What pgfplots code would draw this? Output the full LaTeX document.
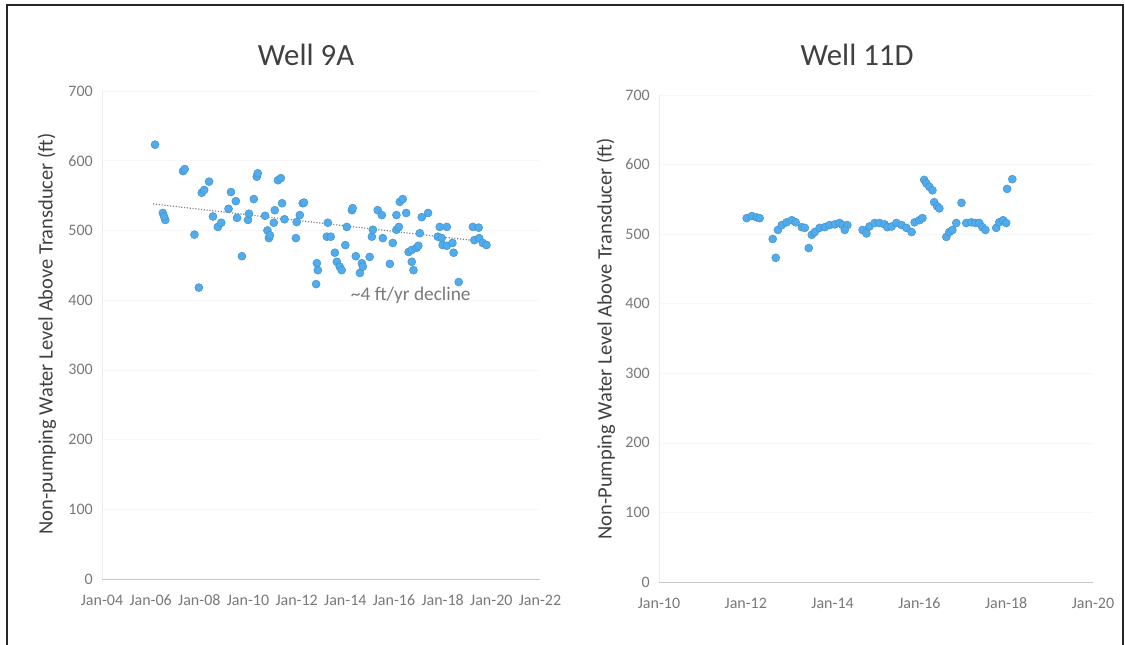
\documentclass[border=0pt]{standalone}
\usepackage{pgfplots}
\pgfplotsset{compat=1.18}
\usepackage{fontspec}
\setmainfont{Carlito}
\definecolor{dot}{RGB}{80,172,236}
\definecolor{txt}{RGB}{64,64,64}
\definecolor{tick}{RGB}{120,120,120}
\begin{document}
\begin{tikzpicture}
\path[use as bounding box] (0,0) rectangle (675pt,387pt);
\draw[line width=0.8pt, black!85] (4.2pt,0) -- (4.2pt,384pt) -- (673.8pt,384pt) -- (673.8pt,0);
\pgfplotsset{
  welax/.style={
    scale only axis,
    anchor=south west,
    axis lines=left,
    axis line style={-},
    x axis line style={draw=gray!45},
    y axis line style={draw=gray!15},
    major tick length=0pt,
    ymin=0, ymax=700,
    ytick={0,100,...,700},
    ymajorgrids,
    grid style={draw=gray!6},
    /pgf/number format/assume math mode=true,
    tick label style={font=\fontsize{9.6}{11}\selectfont, text=tick},
    yticklabel style={xshift=-2pt},
    xticklabel style={yshift=-6pt},
    clip=false,
  },
  dots/.style={only marks, mark=*, mark size=2.4pt,
    mark options={fill=dot, draw=dot!85!black, line width=0.3pt}},
}
\begin{axis}[welax,
  at={(61.2pt,39.6pt)}, width=262.8pt, height=292.8pt,
  xmin=2004, xmax=2022,
  xtick={2004,2006,...,2022},
  xticklabels={Jan-04,Jan-06,Jan-08,Jan-10,Jan-12,Jan-14,Jan-16,Jan-18,Jan-20,Jan-22},
]
\addplot[densely dotted, gray, line width=0.7pt] coordinates {(2006.1,538) (2019.9,483)};
\addplot[dots] coordinates {
(2006.18,623) (2006.5,525) (2006.6,515) (2006.55,520) (2007.33,585) (2007.4,588)
(2007.8,494) (2007.98,418) (2008.1,554) (2008.2,558) (2008.4,570) (2008.56,520)
(2008.76,505) (2008.9,511) (2009.2,531) (2009.3,555) (2009.5,542) (2009.55,518)
(2009.75,463) (2010.0,515) (2010.04,524) (2010.24,545) (2010.36,577) (2010.4,582)
(2010.7,521) (2010.8,500) (2010.86,489) (2010.9,493) (2011.06,511) (2011.1,529)
(2011.23,572) (2011.35,575) (2011.4,539) (2011.5,516) (2011.97,489) (2012.0,512)
(2012.13,522) (2012.25,539) (2012.3,540) (2012.8,423) (2012.83,453) (2012.87,443)
(2013.24,491) (2013.28,511) (2013.4,491) (2013.57,468) (2013.65,455) (2013.77,448)
(2013.85,443) (2014.0,479) (2014.06,505) (2014.27,529) (2014.3,532) (2014.43,463)
(2014.6,439) (2014.68,453) (2014.72,448) (2015.0,462) (2015.09,491) (2015.13,501)
(2015.33,529) (2015.5,522) (2015.54,489) (2015.83,452) (2015.95,482) (2016.1,501)
(2016.1,522) (2016.2,505) (2016.24,541) (2016.36,545) (2016.5,525) (2016.6,469)
(2016.73,472) (2016.73,455) (2016.8,443) (2016.93,475) (2017.0,478) (2017.06,496)
(2017.14,519) (2017.4,525) (2017.8,491) (2017.88,505) (2017.96,489) (2018.0,479)
(2018.17,505) (2018.17,478) (2018.4,482) (2018.45,468) (2018.66,426) (2019.24,505)
(2019.3,486) (2019.48,504) (2019.5,489) (2019.65,482) (2019.8,479)
};
\node[font=\fontsize{11.6}{13}\selectfont, text=gray!95!black] at (axis cs:2016.69,407) {\textasciitilde4 ft/yr decline};
\end{axis}
\begin{axis}[welax,
  at={(395.4pt,37.8pt)}, width=260.4pt, height=292.2pt,
  xmin=2010, xmax=2020,
  xtick={2010,2012,...,2020},
  xticklabels={Jan-10,Jan-12,Jan-14,Jan-16,Jan-18,Jan-20},
]
\addplot[dots] coordinates {
(2012.02,523) (2012.14,526) (2012.25,524) (2012.32,523) (2012.62,493) (2012.69,466)
(2012.74,506) (2012.83,513) (2012.94,517) (2013.06,520) (2013.15,517) (2013.29,510)
(2013.36,509) (2013.45,480) (2013.52,499) (2013.59,503) (2013.7,509) (2013.82,510)
(2013.93,513) (2014.05,514) (2014.16,516) (2014.23,513) (2014.34,513) (2014.28,506)
(2014.69,506) (2014.78,501) (2014.85,511) (2014.97,516) (2015.08,516) (2015.2,514)
(2015.26,510) (2015.36,511) (2015.47,516) (2015.59,513) (2015.7,509) (2015.82,503)
(2015.89,517) (2016.0,520) (2016.07,523) (2016.11,578) (2016.16,573) (2016.23,568)
(2016.3,563) (2016.34,546) (2016.41,540) (2016.46,537) (2016.97,545) (2016.62,496)
(2016.69,503) (2016.76,506) (2016.85,516) (2017.08,516) (2017.2,517)
(2017.29,516) (2017.38,516) (2017.45,510) (2017.52,506) (2017.77,509) (2017.84,517)
(2017.93,520) (2018.0,516) (2018.02,565) (2018.14,579)
};
\end{axis}
\node[font=\fontsize{18.5}{22}\selectfont, text=txt] at (183.6pt,354pt) {Well 9A};
\node[font=\fontsize{18.5}{22}\selectfont, text=txt] at (514.2pt,354pt) {Well 11D};
\node[rotate=90, font=\fontsize{12.3}{14}\selectfont, text=txt] at (28.2pt,186.6pt) {Non-pumping Water Level Above Transducer (ft)};
\node[rotate=90, font=\fontsize{12.3}{14}\selectfont, text=txt] at (363.6pt,183.6pt) {Non-Pumping Water Level Above Transducer (ft)};
\end{tikzpicture}
\end{document}
